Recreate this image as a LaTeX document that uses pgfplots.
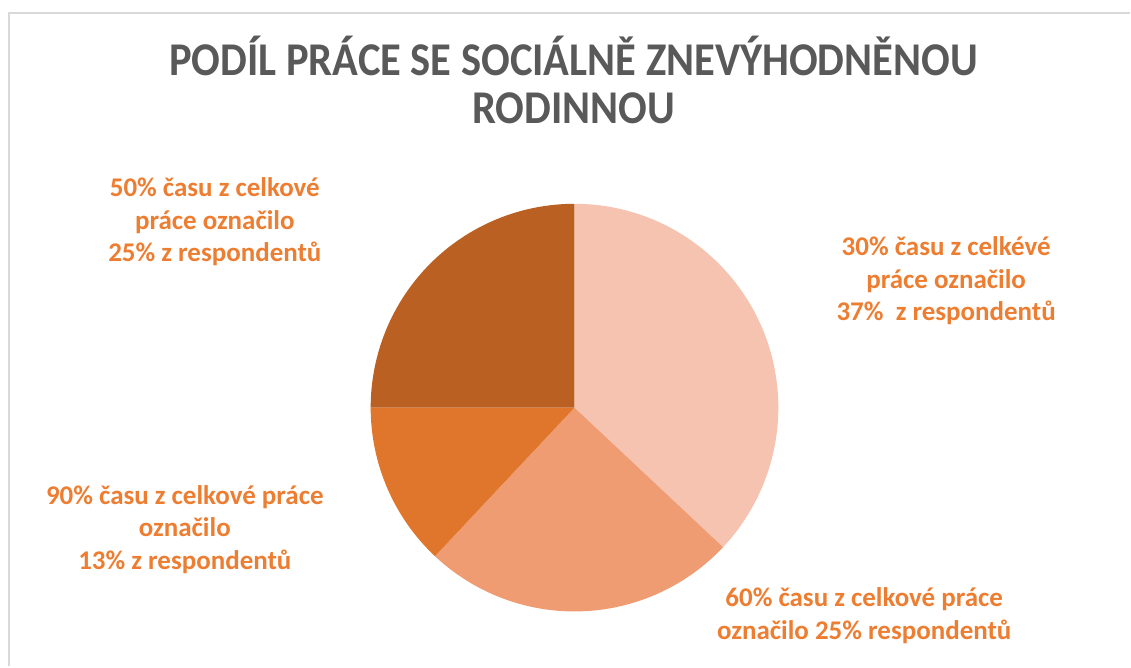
\documentclass[border=0pt]{standalone}
\usepackage{pgfplots}
\usepackage{pgfplotstable}
\pgfplotsset{compat=1.18}
\usepackage{fontspec}
\setmainfont{Carlito}
\definecolor{sA}{HTML}{F5C3B0}
\definecolor{sB}{HTML}{F09C72}
\definecolor{sC}{HTML}{E0762B}
\definecolor{sD}{HTML}{BA6022}
\definecolor{lab}{HTML}{ED7D31}
\definecolor{ttl}{HTML}{595959}
\definecolor{frm}{HTML}{D9D9D9}
\pgfplotstableread{
share
37
25
13
25
}\piedata
\pgfplotstablegetelem{0}{share}\of\piedata \let\va\pgfplotsretval
\pgfplotstablegetelem{1}{share}\of\piedata \let\vb\pgfplotsretval
\pgfplotstablegetelem{2}{share}\of\piedata \let\vc\pgfplotsretval
\pgfplotstablegetelem{3}{share}\of\piedata \let\vd\pgfplotsretval
\pgfmathsetmacro\aa{90}
\pgfmathsetmacro\ab{\aa-3.6*\va}
\pgfmathsetmacro\ac{\ab-3.6*\vb}
\pgfmathsetmacro\ad{\ac-3.6*\vc}
\pgfmathsetmacro\ae{\ad-3.6*\vd}
\begin{document}
\begin{tikzpicture}
\begin{axis}[scale only axis, width=565.5pt, height=333.5pt,
  xmin=0, xmax=1131, ymin=0, ymax=667, hide axis, clip=false]
\addplot[draw=none] coordinates {(0,0) (1131,667)};
\draw[frm, line width=1pt] (axis cs:9,0) -- (axis cs:9,653.5) -- (axis cs:1131,653.5);
\fill[sA] (axis cs:575,259) -- ++(\aa:102pt) arc[start angle=\aa, end angle=\ab, radius=102pt] -- cycle;
\fill[sB] (axis cs:575,259) -- ++(\ab:102pt) arc[start angle=\ab, end angle=\ac, radius=102pt] -- cycle;
\fill[sC] (axis cs:575,259) -- ++(\ac:102pt) arc[start angle=\ac, end angle=\ad, radius=102pt] -- cycle;
\fill[sD] (axis cs:575,259) -- ++(\ad:102pt) arc[start angle=\ad, end angle=\ae, radius=102pt] -- cycle;
\node[ttl, inner sep=0pt] at (axis cs:574,580)
  {\scalebox{0.905}[1]{\fontsize{23.5}{24}\selectfont\bfseries
   \begin{tabular}{@{}c@{}}PODÍL PRÁCE SE SOCIÁLNĚ ZNEVÝHODNĚNOU\\RODINNOU\end{tabular}}};
\node[lab, font=\fontsize{13.5}{16.3}\selectfont\bfseries, align=center] at (axis cs:215,445)
  {50\% času z celkové\\práce označilo\\25\% z respondentů};
\node[lab, font=\fontsize{13.5}{16.3}\selectfont\bfseries, align=center] at (axis cs:947,386)
  {30\% času z celkévé\\práce označilo\\37\%\ \ z respondentů};
\node[lab, font=\fontsize{13.5}{16.3}\selectfont\bfseries, align=center] at (axis cs:185,137)
  {90\% času z celkové práce\\označilo\\13\% z respondentů};
\node[lab, font=\fontsize{13.5}{16.3}\selectfont\bfseries, align=center] at (axis cs:865,51)
  {60\% času z celkové práce\\označilo 25\% respondentů};
\end{axis}
\end{tikzpicture}
\end{document}
